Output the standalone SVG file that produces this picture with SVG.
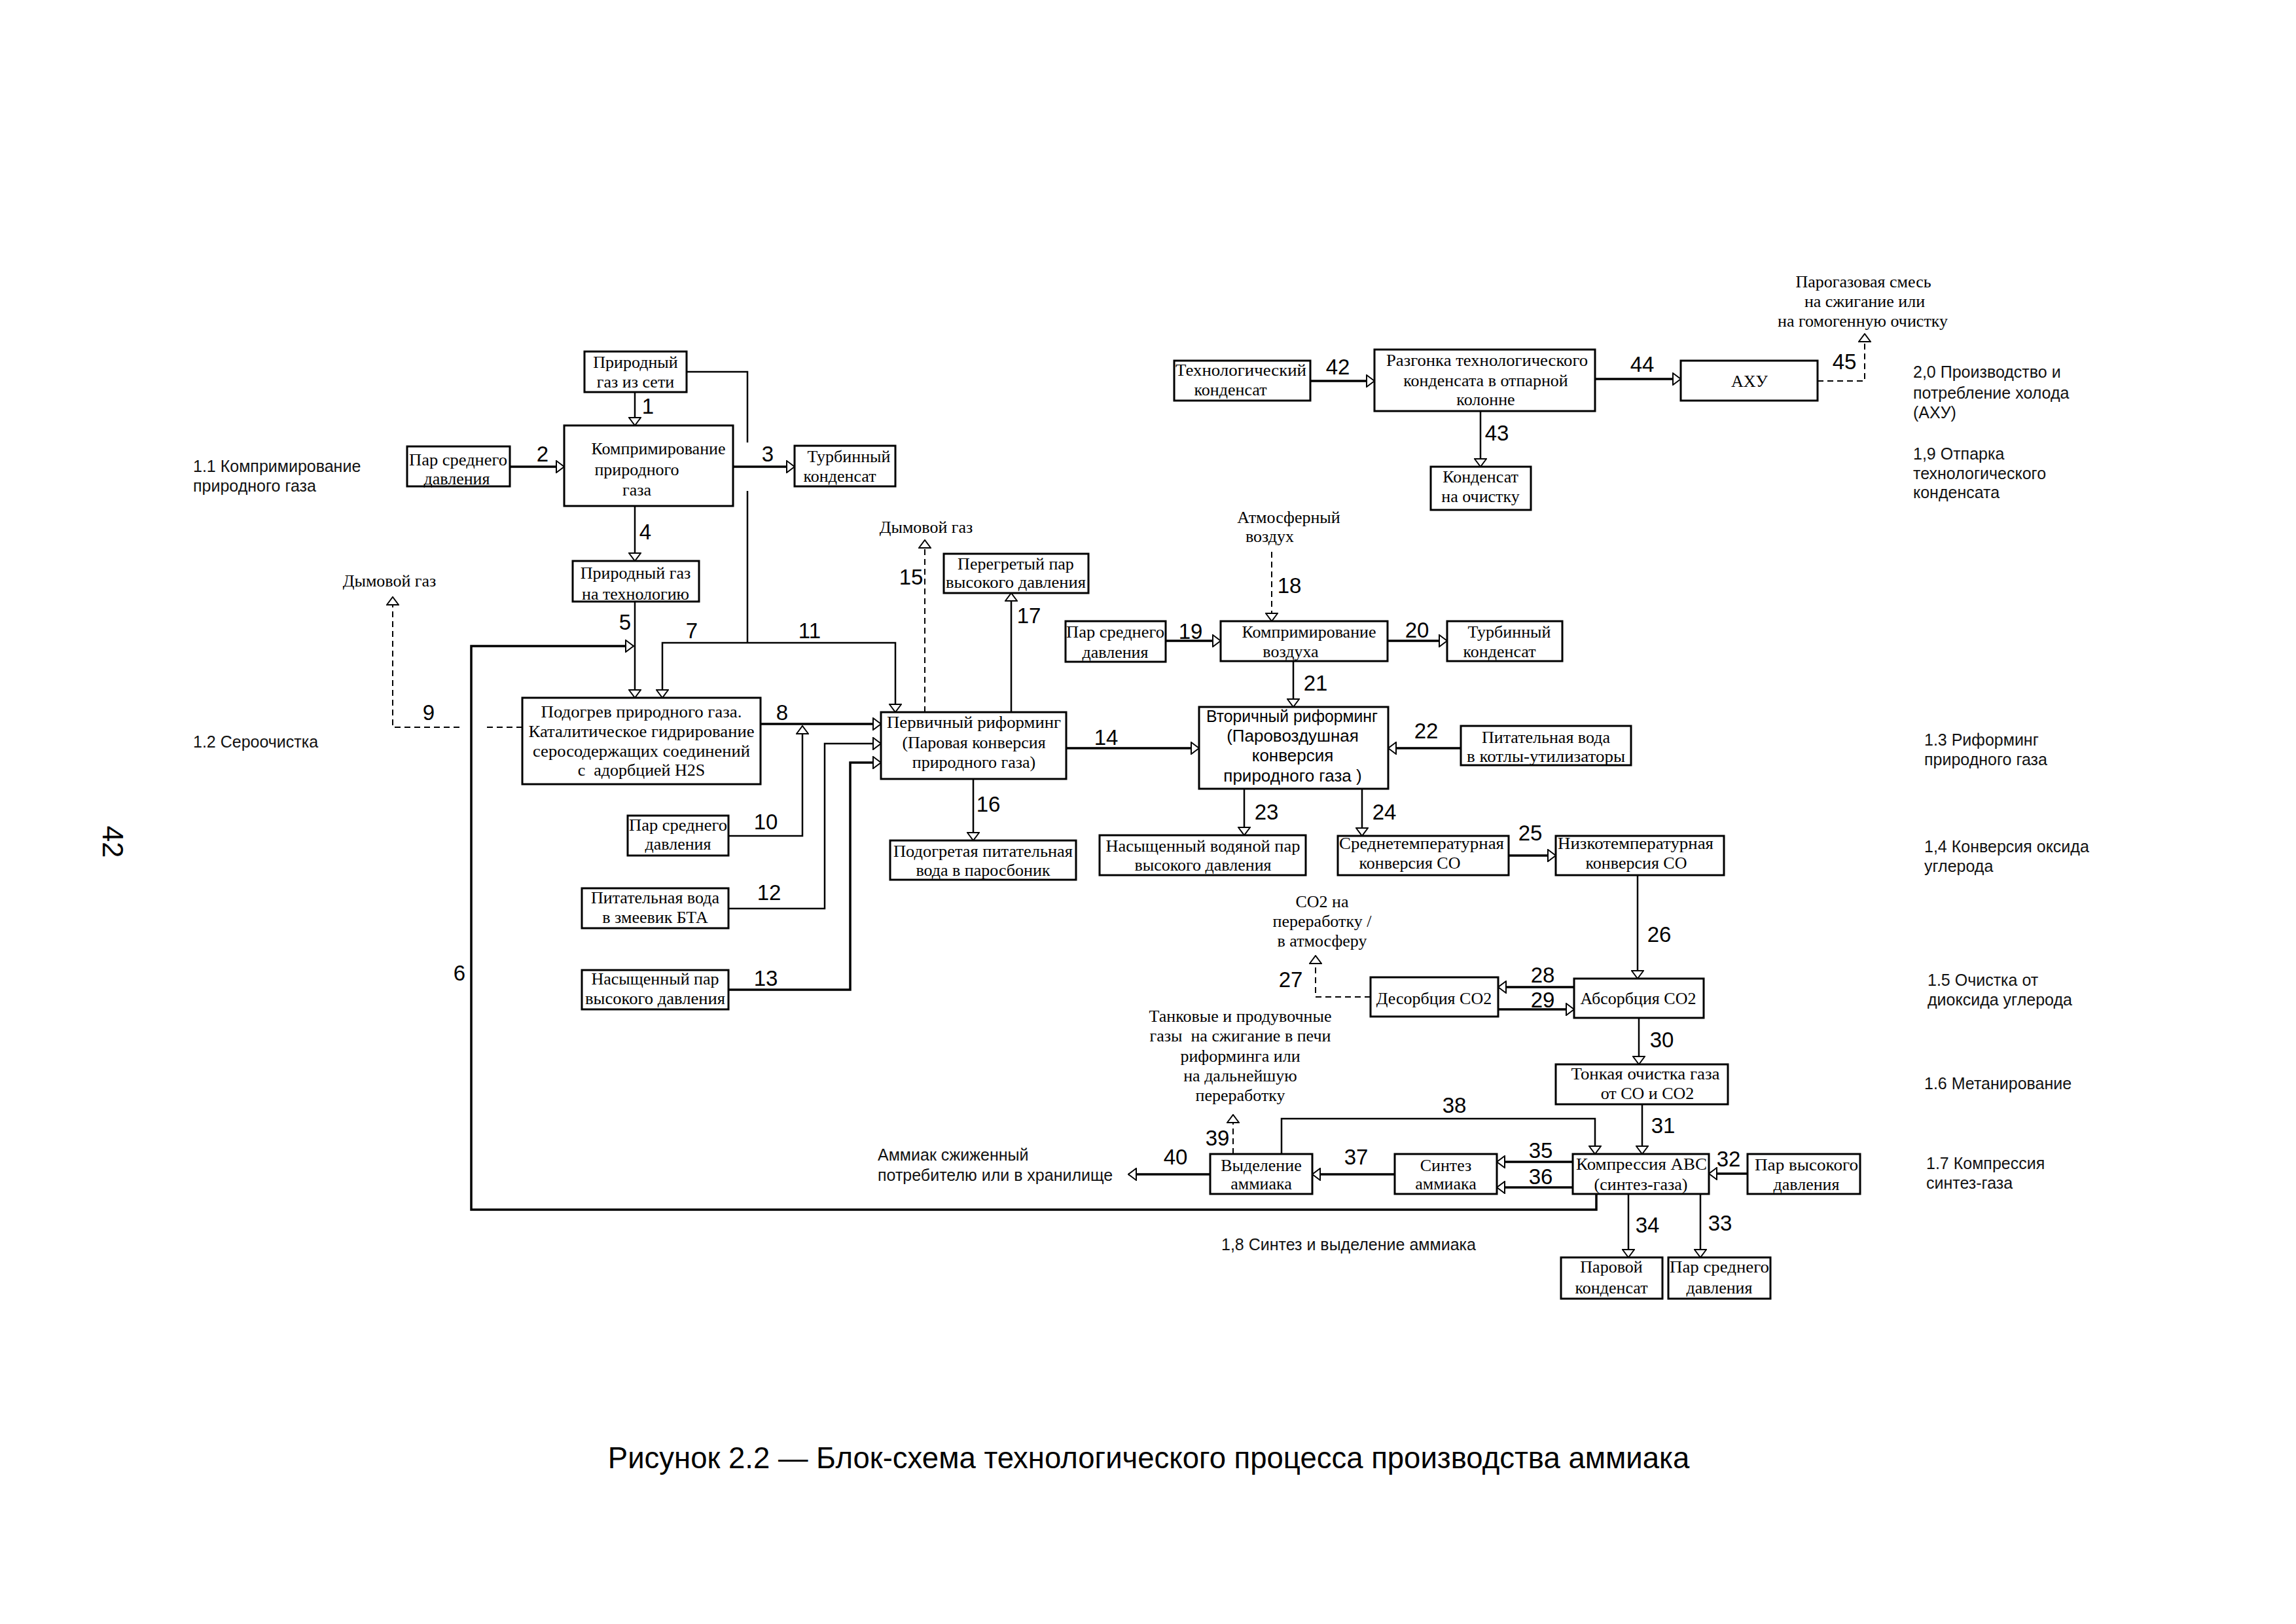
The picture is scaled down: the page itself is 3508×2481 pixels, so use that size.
<svg xmlns="http://www.w3.org/2000/svg" width="3508" height="2481" viewBox="0 0 3508 2481">
<defs>
<marker id="ah" viewBox="0 0 14 20" refX="13" refY="10" markerWidth="14" markerHeight="20" markerUnits="userSpaceOnUse" orient="auto"><path d="M1,1 L13,10 L1,19 Z" fill="#fff" stroke="#000" stroke-width="2"/></marker>
<style>
.box{fill:#fff;stroke:#000;stroke-width:3}
.t{font-family:"Liberation Serif","Times New Roman",serif;font-size:26px;text-anchor:middle;fill:#000}
.ts{font-family:"Liberation Sans",Arial,sans-serif;font-size:26px;text-anchor:middle;fill:#000}
.n{font-family:"Liberation Sans",Arial,sans-serif;font-size:33px;text-anchor:middle;fill:#000}
.lbl{font-family:"Liberation Sans",Arial,sans-serif;font-size:25px;fill:#111}
.c{fill:none;stroke:#000;stroke-width:2.5;marker-end:url(#ah)}
.k{stroke-width:3.5}
.p{fill:none;stroke:#000;stroke-width:2.5}
.d{stroke-dasharray:9 6;stroke-width:2}
</style>
</defs>
<rect width="3508" height="2481" fill="#fff"/>

<g id="connectors">
<path class="c" d="M970,599 V650"/>
<path class="c k" d="M779,713 H862"/>
<path class="c k" d="M1120,713 H1214"/>
<path class="p" d="M1049,568 H1142 V676 M1142,750 V982"/>
<path class="c" d="M1142,982 H1012 V1066"/>
<path class="c" d="M1142,982 H1368 V1088"/>
<path class="c" d="M970,773 V857"/>
<path class="c" d="M970,919 V1066"/>
<path class="c k" d="M2439,1824 V1848 H720 V987 H968"/>
<path class="c k" d="M1162,1106 H1346"/>
<path class="c d" d="M798,1111 H742 M702,1111 H600 V912"/>
<path class="c" d="M1113,1277 H1226 V1109"/>
<path class="c" d="M1113,1388 H1260 V1136 H1346"/>
<path class="c k" d="M1113,1512 H1299 V1165 H1346"/>
<path class="c k" d="M1629,1143 H1832"/>
<path class="c d" d="M1413,1088 V825"/>
<path class="c" d="M1487,1190 V1284"/>
<path class="c" d="M1545,1088 V906"/>
<path class="c d" d="M1943,843 V949"/>
<path class="c k" d="M1781,979 H1865"/>
<path class="c k" d="M2120,979 H2211"/>
<path class="c" d="M1976,1010 V1080"/>
<path class="c k" d="M2232,1143 H2121"/>
<path class="c" d="M1901,1205 V1276"/>
<path class="c" d="M2081,1205 V1277"/>
<path class="c k" d="M2305,1307 H2377"/>
<path class="c" d="M2502,1337 V1495"/>
<path class="c d" d="M2094,1523 H2010 V1460"/>
<path class="c k" d="M2405,1508 H2289"/>
<path class="c k" d="M2289,1542 H2405"/>
<path class="c" d="M2504,1555 V1626"/>
<path class="c" d="M2509,1687 V1763"/>
<path class="c k" d="M2670,1793 H2611"/>
<path class="c" d="M2598,1824 V1921"/>
<path class="c" d="M2488,1824 V1921"/>
<path class="c k" d="M2403,1775 H2287"/>
<path class="c k" d="M2403,1814 H2287"/>
<path class="c k" d="M2131,1794 H2005"/>
<path class="c" d="M1958,1763 V1709 H2437 V1763"/>
<path class="c d" d="M1884,1763 V1703"/>
<path class="c k" d="M1849,1794 H1724"/>
<path class="c k" d="M2002,582 H2100"/>
<path class="c" d="M2262,628 V713"/>
<path class="c k" d="M2437,579 H2568"/>
<path class="c d" d="M2777,582 H2849 V510"/>
<g id="flow-numbers">
<text class="n" x="990" y="632">1</text>
<text class="n" x="829" y="705">2</text>
<text class="n" x="1173" y="705">3</text>
<text class="n" x="986" y="824">4</text>
<text class="n" x="955" y="962">5</text>
<text class="n" x="702" y="1498">6</text>
<text class="n" x="1057" y="975">7</text>
<text class="n" x="1195" y="1100">8</text>
<text class="n" x="655" y="1100">9</text>
<text class="n" x="1170" y="1267">10</text>
<text class="n" x="1237" y="975">11</text>
<text class="n" x="1175" y="1375">12</text>
<text class="n" x="1170" y="1506">13</text>
<text class="n" x="1690" y="1138">14</text>
<text class="n" x="1392" y="893">15</text>
<text class="n" x="1510" y="1240">16</text>
<text class="n" x="1572" y="952">17</text>
<text class="n" x="1970" y="906">18</text>
<text class="n" x="1819" y="976">19</text>
<text class="n" x="2165" y="974">20</text>
<text class="n" x="2010" y="1055">21</text>
<text class="n" x="2179" y="1128">22</text>
<text class="n" x="1935" y="1252">23</text>
<text class="n" x="2115" y="1252">24</text>
<text class="n" x="2338" y="1284">25</text>
<text class="n" x="2535" y="1439">26</text>
<text class="n" x="1972" y="1508">27</text>
<text class="n" x="2357" y="1501">28</text>
<text class="n" x="2357" y="1539">29</text>
<text class="n" x="2539" y="1600">30</text>
<text class="n" x="2541" y="1731">31</text>
<text class="n" x="2641" y="1782">32</text>
<text class="n" x="2628" y="1880">33</text>
<text class="n" x="2517" y="1883">34</text>
<text class="n" x="2354" y="1769">35</text>
<text class="n" x="2354" y="1809">36</text>
<text class="n" x="2072" y="1779">37</text>
<text class="n" x="2222" y="1700">38</text>
<text class="n" x="1860" y="1750">39</text>
<text class="n" x="1796" y="1779">40</text>
<text class="n" x="2044" y="572">42</text>
<text class="n" x="2287" y="673">43</text>
<text class="n" x="2509" y="568">44</text>
<text class="n" x="2818" y="564">45</text>
</g>
</g>

<g id="n1"><rect class="box" x="893" y="537" width="156" height="62"/><text class="t" x="971" y="562">Природный</text><text class="t" x="971" y="592">газ из сети</text></g>
<g id="n2"><rect class="box" x="862" y="650" width="258" height="123"/><text class="t" x="1006" y="694">Компримирование</text><text class="t" x="973" y="726">природного</text><text class="t" x="973" y="757">газа</text></g>
<g id="n3"><rect class="box" x="622" y="682" width="157" height="61"/><text class="t" x="700" y="711" textLength="150" lengthAdjust="spacingAndGlyphs">Пар среднего</text><text class="t" x="698" y="740">давления</text></g>
<g id="n4"><rect class="box" x="1214" y="681" width="154" height="62"/><text class="t" x="1297" y="706">Турбинный</text><text class="t" x="1283" y="736">конденсат</text></g>
<g id="n5"><rect class="box" x="875" y="857" width="193" height="62"/><text class="t" x="971" y="884">Природный газ</text><text class="t" x="971" y="916">на технологию</text></g>
<g id="n6"><rect class="box" x="798" y="1066" width="364" height="132"/><text class="t" x="980" y="1096" textLength="307" lengthAdjust="spacingAndGlyphs">Подогрев природного газа.</text><text class="t" x="980" y="1126" textLength="345" lengthAdjust="spacingAndGlyphs">Каталитическое гидрирование</text><text class="t" x="980" y="1156" textLength="332" lengthAdjust="spacingAndGlyphs">серосодержащих соединений</text><text class="t" x="980" y="1185" xml:space="preserve">с  адорбцией H2S</text></g>
<g id="n7"><rect class="box" x="959" y="1246" width="154" height="61"/><text class="t" x="1036" y="1269" textLength="150" lengthAdjust="spacingAndGlyphs">Пар среднего</text><text class="t" x="1036" y="1298">давления</text></g>
<g id="n8"><rect class="box" x="889" y="1357" width="224" height="61"/><text class="t" x="1001" y="1380">Питательная вода</text><text class="t" x="1001" y="1410">в змеевик БТА</text></g>
<g id="n9"><rect class="box" x="889" y="1482" width="224" height="60"/><text class="t" x="1001" y="1504">Насыщенный пар</text><text class="t" x="1001" y="1534" textLength="214" lengthAdjust="spacingAndGlyphs">высокого давления</text></g>
<g id="n10"><rect class="box" x="1346" y="1088" width="283" height="102"/><text class="t" x="1488" y="1112" textLength="266" lengthAdjust="spacingAndGlyphs">Первичный риформинг</text><text class="t" x="1488" y="1143">(Паровая конверсия</text><text class="t" x="1488" y="1173">природного газа)</text></g>
<g id="n11"><rect class="box" x="1442" y="846" width="221" height="60"/><text class="t" x="1552" y="870">Перегретый пар</text><text class="t" x="1552" y="898" textLength="214" lengthAdjust="spacingAndGlyphs">высокого давления</text></g>
<g id="n12"><rect class="box" x="1360" y="1284" width="284" height="60"/><text class="t" x="1502" y="1309" textLength="274" lengthAdjust="spacingAndGlyphs">Подогретая питательная</text><text class="t" x="1502" y="1338">вода в паросбоник</text></g>
<g id="n13"><rect class="box" x="1628" y="949" width="153" height="62"/><text class="t" x="1704" y="974" textLength="150" lengthAdjust="spacingAndGlyphs">Пар среднего</text><text class="t" x="1704" y="1005">давления</text></g>
<g id="n14"><rect class="box" x="1865" y="949" width="255" height="61"/><text class="t" x="2000" y="974">Компримирование</text><text class="t" x="1972" y="1004">воздуха</text></g>
<g id="n15"><rect class="box" x="2211" y="949" width="176" height="61"/><text class="t" x="2306" y="974">Турбинный</text><text class="t" x="2291" y="1004">конденсат</text></g>
<g id="n16"><rect class="box" x="1832" y="1080" width="289" height="125"/><text class="ts" x="1974" y="1103" textLength="262" lengthAdjust="spacingAndGlyphs">Вторичный риформинг</text><text class="ts" x="1975" y="1133">(Паровоздушная</text><text class="ts" x="1975" y="1163">конверсия</text><text class="ts" x="1975" y="1194">природного газа )</text></g>
<g id="n17"><rect class="box" x="2232" y="1109" width="260" height="60"/><text class="t" x="2362" y="1135">Питательная вода</text><text class="t" x="2362" y="1164" textLength="242" lengthAdjust="spacingAndGlyphs">в котлы-утилизаторы</text></g>
<g id="n18"><rect class="box" x="1680" y="1276" width="315" height="61"/><text class="t" x="1838" y="1301" textLength="297" lengthAdjust="spacingAndGlyphs">Насыщенный водяной пар</text><text class="t" x="1838" y="1330">высокого давления</text></g>
<g id="n19"><rect class="box" x="2044" y="1277" width="261" height="60"/><text class="t" x="2172" y="1297" textLength="252" lengthAdjust="spacingAndGlyphs">Среднетемпературная</text><text class="t" x="2154" y="1327">конверсия CO</text></g>
<g id="n20"><rect class="box" x="2377" y="1277" width="257" height="60"/><text class="t" x="2499" y="1297" textLength="238" lengthAdjust="spacingAndGlyphs">Низкотемпературная</text><text class="t" x="2500" y="1327">конверсия CO</text></g>
<g id="n21"><rect class="box" x="2094" y="1493" width="195" height="60"/><text class="t" x="2191" y="1534">Десорбция CO2</text></g>
<g id="n22"><rect class="box" x="2405" y="1495" width="198" height="60"/><text class="t" x="2503" y="1534">Абсорбция CO2</text></g>
<g id="n23"><rect class="box" x="2377" y="1626" width="263" height="61"/><text class="t" x="2514" y="1649" textLength="227" lengthAdjust="spacingAndGlyphs">Тонкая очистка газа</text><text class="t" x="2517" y="1679">от CO и CO2</text></g>
<g id="n24"><rect class="box" x="2403" y="1763" width="208" height="61"/><text class="t" x="2508" y="1787" textLength="200" lengthAdjust="spacingAndGlyphs">Компрессия АВС</text><text class="t" x="2507" y="1818">(синтез-газа)</text></g>
<g id="n25"><rect class="box" x="2670" y="1763" width="172" height="61"/><text class="t" x="2760" y="1788" textLength="158" lengthAdjust="spacingAndGlyphs">Пар высокого</text><text class="t" x="2760" y="1818">давления</text></g>
<g id="n26"><rect class="box" x="2385" y="1921" width="155" height="63"/><text class="t" x="2462" y="1944">Паровой</text><text class="t" x="2462" y="1976">конденсат</text></g>
<g id="n27"><rect class="box" x="2549" y="1921" width="156" height="63"/><text class="t" x="2627" y="1944" textLength="152" lengthAdjust="spacingAndGlyphs">Пар среднего</text><text class="t" x="2627" y="1976">давления</text></g>
<g id="n28"><rect class="box" x="2131" y="1763" width="156" height="61"/><text class="t" x="2209" y="1789">Синтез</text><text class="t" x="2209" y="1817">аммиака</text></g>
<g id="n29"><rect class="box" x="1849" y="1763" width="156" height="61"/><text class="t" x="1927" y="1789">Выделение</text><text class="t" x="1927" y="1817">аммиака</text></g>
<g id="n30"><rect class="box" x="1794" y="551" width="208" height="61"/><text class="t" x="1896" y="574" textLength="200" lengthAdjust="spacingAndGlyphs">Технологический</text><text class="t" x="1880" y="604">конденсат</text></g>
<g id="n31"><rect class="box" x="2100" y="534" width="337" height="94"/><text class="t" x="2272" y="559" textLength="308" lengthAdjust="spacingAndGlyphs">Разгонка технологического</text><text class="t" x="2270" y="590">конденсата в отпарной</text><text class="t" x="2270" y="619">колонне</text></g>
<g id="n32"><rect class="box" x="2568" y="551" width="209" height="61"/><text class="t" x="2673" y="591">АХУ</text></g>
<g id="n33"><rect class="box" x="2186" y="713" width="153" height="66"/><text class="t" x="2262" y="737">Конденсат</text><text class="t" x="2262" y="767">на очистку</text></g>

<g id="outputs">
<text class="t" x="595" y="896">Дымовой газ</text>
<text class="t" x="1415" y="814">Дымовой газ</text>
<text class="t" x="1969" y="799">Атмосферный</text>
<text class="t" x="1940" y="828">воздух</text>
<text class="t" x="2847" y="439">Парогазовая смесь</text>
<text class="t" x="2849" y="469">на сжигание или</text>
<text class="t" x="2846" y="499">на гомогенную очистку</text>
<text class="t" x="2020" y="1386">CO2 на</text>
<text class="t" x="2020" y="1416">переработку /</text>
<text class="t" x="2020" y="1446">в атмосферу</text>
<text class="t" x="1895" y="1561">Танковые и продувочные</text>
<text class="t" x="1895" y="1591" xml:space="preserve">газы  на сжигание в печи</text>
<text class="t" x="1895" y="1622">риформинга или</text>
<text class="t" x="1895" y="1652">на дальнейшую</text>
<text class="t" x="1895" y="1682">переработку</text>
<text class="lbl" x="1341" y="1773">Аммиак сжиженный</text>
<text class="lbl" x="1341" y="1804">потребителю или в хранилище</text>
</g>

<g id="stage-labels">
<text class="lbl" x="295" y="721">1.1 Компримирование</text>
<text class="lbl" x="295" y="751">природного газа</text>
<text class="lbl" x="295" y="1142">1.2 Сероочистка</text>
<text class="lbl" x="2923" y="577">2,0 Производство и</text>
<text class="lbl" x="2923" y="609">потребление холода</text>
<text class="lbl" x="2923" y="639">(АХУ)</text>
<text class="lbl" x="2923" y="702">1,9 Отпарка</text>
<text class="lbl" x="2923" y="732">технологического</text>
<text class="lbl" x="2923" y="761">конденсата</text>
<text class="lbl" x="2940" y="1139">1.3 Риформинг</text>
<text class="lbl" x="2940" y="1169">природного газа</text>
<text class="lbl" x="2940" y="1302">1,4 Конверсия оксида</text>
<text class="lbl" x="2940" y="1332">углерода</text>
<text class="lbl" x="2945" y="1506">1.5 Очистка от</text>
<text class="lbl" x="2945" y="1536">диоксида углерода</text>
<text class="lbl" x="2940" y="1664">1.6 Метанирование</text>
<text class="lbl" x="2943" y="1786">1.7 Компрессия</text>
<text class="lbl" x="2943" y="1816">синтез-газа</text>
<text class="lbl" x="1866" y="1910">1,8 Синтез и выделение аммиака</text>
</g>

<text transform="translate(173,1286) rotate(90)" x="0" y="16" style="font-family:'Liberation Sans',Arial,sans-serif;font-size:44px;text-anchor:middle">42</text>
<text x="1755" y="2243" style="font-family:'Liberation Sans',Arial,sans-serif;font-size:45.5px;text-anchor:middle">Рисунок 2.2 — Блок-схема технологического процесса производства аммиака</text>
</svg>
